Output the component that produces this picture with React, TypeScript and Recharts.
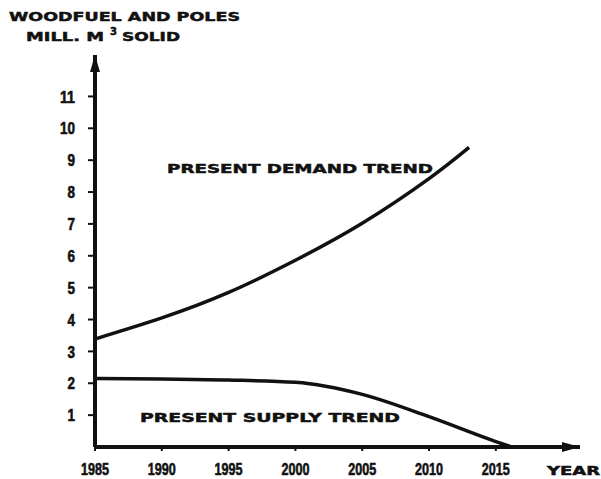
import { LineChart, Line, XAxis, YAxis, ReferenceDot } from "recharts";

// years and values (mill. m3 solid)
const demandYears = [1985, 1990, 1995, 2000, 2005, 2010, 2013];
const demandValues = [3.39, 4.05, 4.85, 5.86, 7.02, 8.42, 9.4];
const supplyYears = [1985, 1990, 1995, 2000, 2005, 2010, 2015, 2016.2];
const supplyValues = [2.15, 2.13, 2.1, 2.03, 1.65, 0.95, 0.17, 0];
const yearTicks = [1985, 1990, 1995, 2000, 2005, 2010, 2015];
const valueTicks = [1, 2, 3, 4, 5, 6, 7, 8, 9, 10, 11];

const demandData = demandYears.map((year, i) => ({ year, value: demandValues[i] }));
const supplyData = supplyYears.map((year, i) => ({ year, value: supplyValues[i] }));

const INK = "#111";
const tickFont = "'Liberation Sans', Arial, sans-serif";
const wideFont = "'DejaVu Sans', sans-serif";

const RightArrow = ({ cx, cy }: any) => (
  <path d={`M${cx},${cy} L${cx - 18},${cy - 5} L${cx - 18},${cy + 5} Z`} fill={INK} />
);
const UpArrow = ({ cx, cy }: any) => (
  <path d={`M${cx},${cy} L${cx - 5},${cy + 17} L${cx + 5},${cy + 17} Z`} fill={INK} />
);

// condensed, heavy digits like the original lettering
const YearTick = ({ x, y, payload }: any) => (
  <text
    x={x}
    y={y}
    dy="0.71em"
    textAnchor="middle"
    fill={INK}
    stroke={INK}
    strokeWidth={0.6}
    fontFamily={tickFont}
    fontWeight={700}
    fontSize={17}
    textLength={28}
    lengthAdjust="spacingAndGlyphs"
  >
    {payload.value}
  </text>
);

const ValueTick = ({ x, y, payload }: any) => {
  const label = String(payload.value);
  return (
    <text
      x={x}
      y={y}
      dy="0.36em"
      textAnchor="end"
      fill={INK}
      stroke={INK}
      strokeWidth={0.6}
      fontFamily={tickFont}
      fontWeight={700}
      fontSize={17}
      textLength={label.length * 7.5}
      lengthAdjust="spacingAndGlyphs"
    >
      {label}
    </text>
  );
};

export default function App() {
  return (
    <div style={{ position: "fixed", left: 0, top: 0, width: 601, height: 479, background: "#fff" }}>
      <LineChart width={601} height={479} margin={{ top: 55, right: 21, left: 0, bottom: 2 }}>
        <XAxis
          type="number"
          dataKey="year"
          domain={[1985, 2021.3]}
          ticks={yearTicks}
          allowDataOverflow
          height={30}
          axisLine={{ stroke: INK, strokeWidth: 4 }}
          tickLine={{ stroke: INK, strokeWidth: 2 }}
          tickSize={4}
          tickMargin={12}
          tick={<YearTick />}
        />
        <YAxis
          type="number"
          domain={[0, 12.3]}
          ticks={valueTicks}
          allowDataOverflow
          width={95}
          axisLine={{ stroke: INK, strokeWidth: 4 }}
          tickLine={{ stroke: INK, strokeWidth: 2 }}
          tickSize={7}
          tickMargin={13}
          tick={<ValueTick />}
        />
        <Line
          data={demandData}
          dataKey="value"
          type="natural"
          stroke={INK}
          strokeWidth={3.5}
          dot={false}
          isAnimationActive={false}
        />
        <Line
          data={supplyData}
          dataKey="value"
          type="monotone"
          stroke={INK}
          strokeWidth={3.5}
          dot={false}
          isAnimationActive={false}
        />
        <ReferenceDot x={2021.3} y={0} ifOverflow="visible" shape={RightArrow} />
        <ReferenceDot x={1985} y={12.3} ifOverflow="visible" shape={UpArrow} />
      </LineChart>
      <svg
        width={601}
        height={479}
        style={{ position: "absolute", left: 0, top: 0, pointerEvents: "none" }}
        fontFamily={wideFont}
        fontWeight={700}
        fill={INK}
        stroke={INK}
        strokeWidth={0.5}
      >
        <text x={9} y={20.5} fontSize={13} textLength={231} lengthAdjust="spacingAndGlyphs">
          WOODFUEL AND POLES
        </text>
        <text x={26} y={41} fontSize={13} textLength={78} lengthAdjust="spacingAndGlyphs">
          MILL. M
        </text>
        <text x={110} y={35} fontSize={11} textLength={7} lengthAdjust="spacingAndGlyphs">
          3
        </text>
        <text x={122} y={41} fontSize={13} textLength={58} lengthAdjust="spacingAndGlyphs">
          SOLID
        </text>
        <text x={167} y={172.5} fontSize={13} textLength={266} lengthAdjust="spacingAndGlyphs">
          PRESENT DEMAND TREND
        </text>
        <text x={140} y={421.5} fontSize={13} textLength={260} lengthAdjust="spacingAndGlyphs">
          PRESENT SUPPLY TREND
        </text>
        <text x={547} y={475} fontSize={12} textLength={53} lengthAdjust="spacingAndGlyphs">
          YEAR
        </text>
      </svg>
    </div>
  );
}
